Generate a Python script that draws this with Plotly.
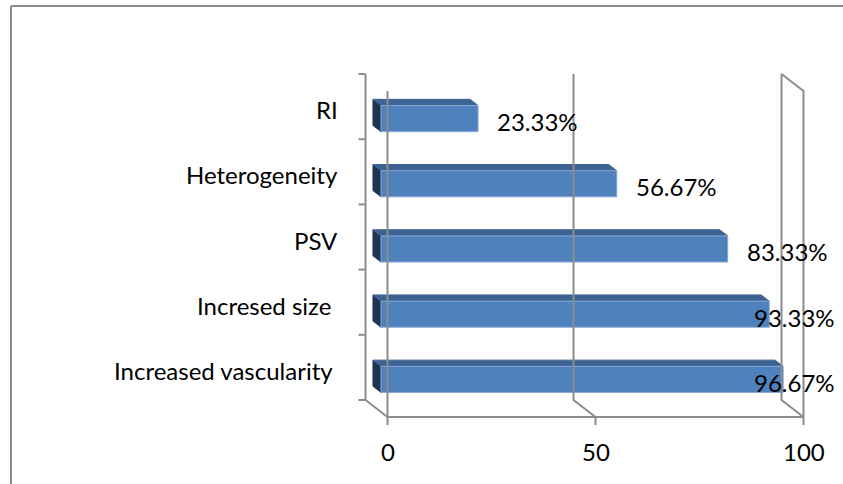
import plotly.graph_objects as go

# ---- data ----
categories = ["Increased vascularity ", "Incresed size ", "PSV", "Heterogeneity", "RI"]
values = [96.67, 93.33, 83.33, 56.67, 23.33]
value_labels = ["96.67%", "93.33%", "83.33%", "56.67%", "23.33%"]
value_ticks = [0, 50, 100]
value_tick_labels = ["0", "50", "100"]

# ---- geometry (pixel scale of the pseudo-3D box) ----
W, H = 843, 484
PX_PER_VAL = 4.16
PX_PER_CAT = 65.2
BACK_X0 = 365.5          # px of value 0 on the back plane
BACK_YB = 400.0          # px of the bottom of the back plane
xmin = -BACK_X0 / PX_PER_VAL
xmax = xmin + W / PX_PER_VAL
ymax = BACK_YB / PX_PER_CAT - 0.5
ymin = ymax - H / PX_PER_CAT

DX = 22 / PX_PER_VAL      # depth offset in value units (front plane)
DY = -17 / PX_PER_CAT     # depth offset in category units
D_BAR_FRONT = 0.705
D_BAR_BACK = 0.34
HALF = 0.2                # half bar thickness (category units)

def P(v, y, d):
    return v + d * DX, y + d * DY

GRID = "#8C8C8C"
FRONT = "#4F81BD"
TOP = "#3C6391"
SIDE = "#1F3550"
FONT = "Lato"
FS = 24

fig = go.Figure()

def poly(pts, color, line_color=None):
    xs = [p[0] for p in pts] + [pts[0][0]]
    ys = [p[1] for p in pts] + [pts[0][1]]
    fig.add_trace(go.Scatter(x=xs, y=ys, mode="lines", fill="toself",
                             fillcolor=color,
                             line=dict(color=line_color or color, width=1),
                             hoverinfo="skip", showlegend=False))

def seg(pts, width=2):
    fig.add_trace(go.Scatter(x=[p[0] for p in pts], y=[p[1] for p in pts],
                             mode="lines", line=dict(color=GRID, width=width),
                             hoverinfo="skip", showlegend=False))

# ---- bars ----
for i, v in enumerate(values):
    lo, hi = i - HALF, i + HALF
    # left (end) face
    poly([P(0, lo, D_BAR_BACK), P(0, lo, D_BAR_FRONT), P(0, hi, D_BAR_FRONT), P(0, hi, D_BAR_BACK)], SIDE)
    # top face
    poly([P(0, hi, D_BAR_FRONT), P(v, hi, D_BAR_FRONT), P(v, hi, D_BAR_BACK), P(0, hi, D_BAR_BACK)], TOP)
    # front face
    poly([P(0, lo, D_BAR_FRONT), P(v, lo, D_BAR_FRONT), P(v, hi, D_BAR_FRONT), P(0, hi, D_BAR_FRONT)], FRONT, "#86A8D6")

# ---- walls, gridlines and axes ----
ybot, ytop = -0.5, len(categories) - 0.5
tick_len_x = 7 / PX_PER_VAL
tick_len_y = 8 / PX_PER_CAT
# category axis on back plane
seg([P(0, ybot, 0), P(0, ytop, 0)])
for k in range(len(categories) + 1):
    yb = ybot + k
    seg([P(-tick_len_x, yb, 0), P(0, yb, 0)])
# floor diagonal at 0 and front 0 line
seg([P(0, ybot, 0), P(0, ybot, 1)])
seg([P(0, ybot, 1), P(0, ytop, 1)])
# gridline 50
seg([P(50, ytop, 0), P(50, ybot, 0), P(50, ybot, 1)])
# right wall at 100
seg([P(100, ybot, 1), P(100, ybot, 0), P(100, ytop, 0), P(100, ytop, 1), P(100, ybot, 1)])
# front value axis
seg([P(0, ybot, 1), P(100, ybot, 1)])
for t in value_ticks:
    seg([P(t, ybot, 1), P(t, ybot - tick_len_y, 1)])

annotations = []
# category labels
for i, c in enumerate(categories):
    txt = c.rstrip() + ("\u00a0" if c.endswith(" ") else "")
    annotations.append(dict(x=-25.5 / PX_PER_VAL, y=i - 3 / PX_PER_CAT, xref="x", yref="y",
                            text=txt, showarrow=False, xanchor="right", yanchor="middle",
                            font=dict(family=FONT, size=FS, color="black")))
# value tick labels
for t, lab in zip(value_ticks, value_tick_labels):
    x, _ = P(t, ybot, 1)
    annotations.append(dict(x=x, y=(BACK_YB - 451) / PX_PER_CAT - 0.5, xref="x", yref="y",
                            text=lab, showarrow=False, xanchor="center", yanchor="middle",
                            font=dict(family=FONT, size=FS, color="black")))
# data labels (pushed inside the chart area when they would overflow)
max_left = (760 - BACK_X0) / PX_PER_VAL
right_edge = (837 - BACK_X0) / PX_PER_VAL
for i, (v, lab) in enumerate(zip(values, value_labels)):
    xf, yf = P(v, i, D_BAR_FRONT)
    x = xf + 17 / PX_PER_VAL
    anchor = "left"
    if x > max_left:
        x, anchor = right_edge, "right"
    annotations.append(dict(x=x, y=yf - 3 / PX_PER_CAT, xref="x", yref="y",
                            text=lab, showarrow=False, xanchor=anchor, yanchor="middle",
                            font=dict(family=FONT, size=FS, color="black")))

fig.update_layout(
    width=W, height=H,
    margin=dict(l=0, r=0, t=0, b=0),
    paper_bgcolor="white", plot_bgcolor="white",
    xaxis=dict(range=[xmin, xmax], visible=False, fixedrange=True),
    yaxis=dict(range=[ymin, ymax], visible=False, fixedrange=True),
    showlegend=False,
    annotations=annotations,
    shapes=[
        dict(type="line", xref="paper", yref="paper", x0=11 / W, x1=11 / W, y0=0, y1=1 - 6 / H,
             line=dict(color="#8A8A8A", width=2)),
        dict(type="line", xref="paper", yref="paper", x0=11 / W, x1=1, y0=1 - 6 / H, y1=1 - 6 / H,
             line=dict(color="#8A8A8A", width=2)),
    ],
)

fig.write_html("out.html", config={"displayModeBar": False},
               post_script="document.body.style.margin='0';document.body.style.overflow='hidden';")
